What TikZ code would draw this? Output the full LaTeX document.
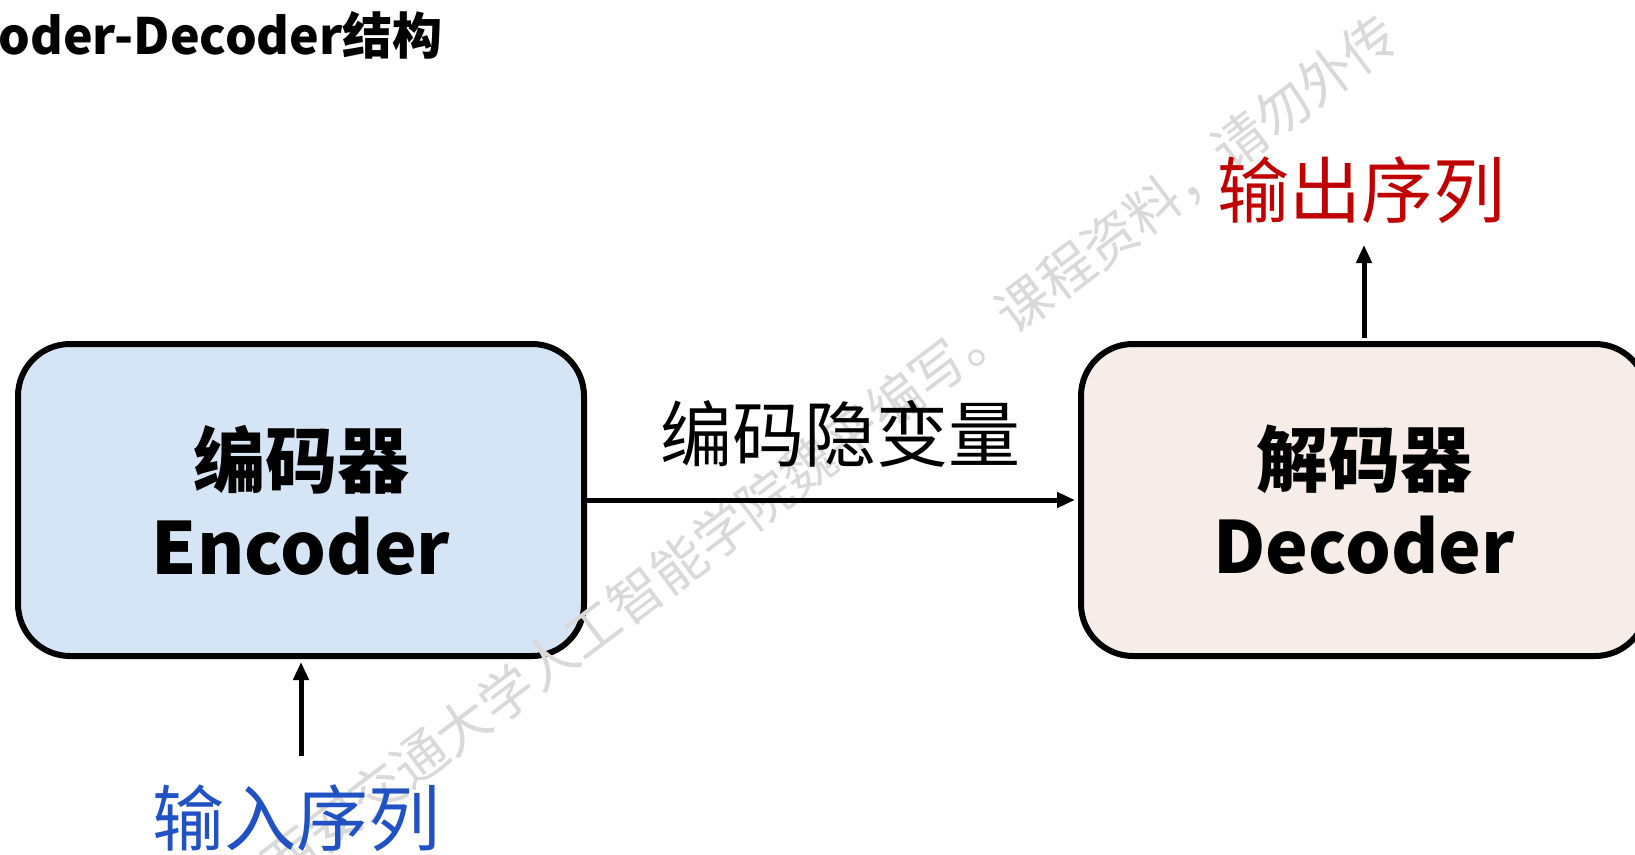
\documentclass[tikz,border=0pt]{standalone}
\usepackage{fontspec}
\setmainfont{Noto Sans CJK SC}
\usetikzlibrary{arrows.meta}
\definecolor{encfill}{RGB}{214,229,245}
\definecolor{decfill}{RGB}{246,237,233}
\definecolor{outred}{RGB}{192,0,0}
\definecolor{inblue}{RGB}{32,82,196}
\definecolor{wmgray}{RGB}{217,217,217}
\begin{document}
\begin{tikzpicture}[x=1pt,y=-1pt,
  box/.style={draw=black, line width=6pt, rounded corners=52pt, minimum width=566pt, minimum height=312pt, inner sep=0pt, align=center, font=\fontsize{72}{87}\selectfont\bfseries},
  arr/.style={line width=5pt, -{Triangle[length=18pt,width=15pt]}},
  lbl/.style={inner sep=0pt, font=\fontsize{72}{80}\selectfont},
  wm/.style={inner sep=0pt, rotate=37, text=wmgray, font=\fontsize{54}{60}\selectfont},
  ttl/.style={inner sep=0pt, font=\fontsize{50}{60}\selectfont\bfseries}
]
\useasboundingbox (0,0) rectangle (1635,854);
\clip (0,0) rectangle (1635,854);
\fill[white] (0,0) rectangle (1635,854);

\node[ttl, anchor=base east] (title) at (443,54) {Encoder-Decoder结构};

\node[box, fill=encfill] (enc) at (301,500) {编码器\\Encoder};
\node[box, fill=decfill] (dec) at (1364,500) {解码器\\Decoder};

\node[wm] (mark) at (830,450) {西安交通大学人工智能学院魏平编写。课程资料，请勿外传};

\node[lbl] (mid) at (840,434) {编码隐变量};
\node[lbl, text=outred] (out) at (1361,190) {输出序列};
\node[lbl, text=inblue] (in) at (296,818) {输入序列};

\coordinate (intail) at (301,756);
\coordinate (outtip) at (1364,245);

\draw[arr, shorten >=3pt] (enc.east) -- (dec.west);
\draw[arr, shorten >=3pt] (intail) -- (enc.south);
\draw[arr, shorten <=3pt] (dec.north) -- (outtip);
\end{tikzpicture}
\end{document}
